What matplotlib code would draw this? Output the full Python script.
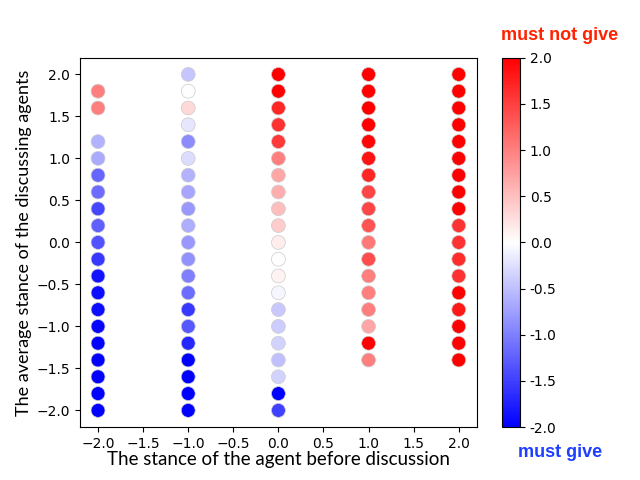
import numpy as np
import matplotlib
matplotlib.use("Agg")
import matplotlib.pyplot as plt

# stance of agent before discussion (x), average stance of discussants (y),
# resulting decision value (colour)
y_levels = [2.0, 1.8, 1.6, 1.4, 1.2, 1.0, 0.8, 0.6, 0.4, 0.2, 0.0,
            -0.2, -0.4, -0.6, -0.8, -1.0, -1.2, -1.4, -1.6, -1.8, -2.0]

# None = no point at that level
col_m2 = [None, 1.0, 1.0, None, -0.6, -0.67, -1.2, -1.15, -1.45, -1.25, -1.35,
          -1.55, -1.85, -1.9, -1.9, -1.95, -2.0, -2.0, -2.0, -2.0, -2.0]
col_m1 = [-0.45, 0.0, 0.3, -0.2, -0.9, -0.27, -0.6, -0.7, -0.8, -0.63, -0.8,
          -0.85, -1.0, -1.15, -1.55, -1.3, -1.7, -2.0, -2.0, -2.0, -2.0]
col_0 = [2.0, 2.0, 1.7, 1.6, 1.55, 1.0, 0.7, 0.63, 0.5, 0.4, 0.15,
         0.0, 0.1, -0.07, -0.43, -0.4, -0.35, -0.5, -0.35, -2.0, -1.5]
col_1 = [2.0, 2.0, 2.0, 2.0, 1.95, 1.85, 1.7, 1.45, 1.45, 1.33, 1.05,
         1.4, 1.0, 1.0, 1.0, 0.7, 2.0, 1.0, None, None, None]
col_2 = [2.0, 2.0, 2.0, 2.0, 2.0, 2.0, 2.0, 2.0, 2.0, 1.6, 1.6,
         1.65, 1.6, 2.0, 1.8, 2.0, 2.0, 2.0, None, None, None]

stances = [-2, -1, 0, 1, 2]
columns = [col_m2, col_m1, col_0, col_1, col_2]

xs, ys, cs = [], [], []
for sx, col in zip(stances, columns):
    for yv, cv in zip(y_levels, col):
        if cv is None:
            continue
        xs.append(sx); ys.append(yv); cs.append(cv)

fig, ax = plt.subplots(figsize=(6.4, 4.8), dpi=100)
sc = ax.scatter(xs, ys, c=cs, cmap="bwr", vmin=-2, vmax=2, s=100,
                edgecolors="#cccccc", linewidths=0.5)

lab_font = ["Lato", "DejaVu Sans"]
ax.set_xlabel("The stance of the agent before discussion", fontsize=13.5,
              family=lab_font, labelpad=0)
ax.set_ylabel("The average stance of the discussing agents", fontsize=13,
              family=lab_font, labelpad=3)

cb = plt.colorbar(sc, ax=ax)
ticks = [-2.0, -1.5, -1.0, -0.5, 0.0, 0.5, 1.0, 1.5, 2.0]
cb.set_ticks(ticks)
cb.set_ticklabels([f"{t:.1f}" for t in ticks])
fig.text(0.783, 0.925, "must not give", ha="left", va="center",
         fontsize=13, fontweight="bold", color="#ff2200",
         family="Liberation Sans")
fig.text(0.875, 0.058, "must give", ha="center", va="center",
         fontsize=13, fontweight="bold", color="#1f3fff",
         family="Liberation Sans")

fig.savefig("out.png", dpi=100)
